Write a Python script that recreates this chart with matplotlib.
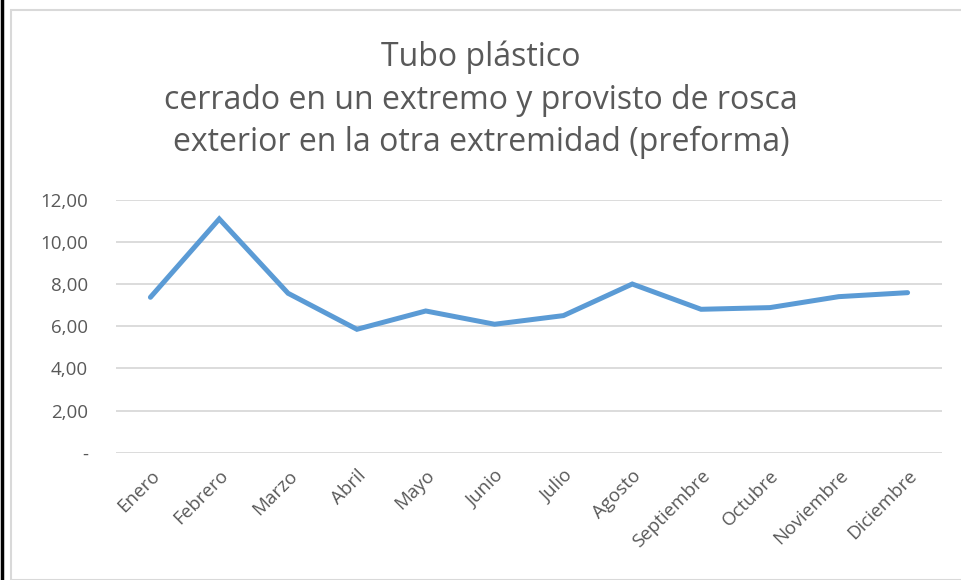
import numpy as np
import matplotlib.pyplot as plt
from matplotlib.patches import Rectangle
from matplotlib.lines import Line2D
from matplotlib.ticker import FuncFormatter

# monthly values
meses = ['Enero', 'Febrero', 'Marzo', 'Abril', 'Mayo', 'Junio', 'Julio',
         'Agosto', 'Septiembre', 'Octubre', 'Noviembre', 'Diciembre']
valores = [7.38, 11.10, 7.57, 5.86, 6.73, 6.10, 6.51, 8.01, 6.81, 6.89, 7.41, 7.60]
yticks = [0, 2, 4, 6, 8, 10, 12]

titulo = ('Tubo plástico\n'
          'cerrado en un extremo y provisto de rosca\n'
          'exterior en la otra extremidad (preforma)')

plt.rcParams['font.family'] = ['Open Sans', 'DejaVu Sans']
gris = '#595959'

fig = plt.figure(figsize=(9.61, 5.8), dpi=100)
W, H = 961, 580

# chart frame and black left edge
fig.patches.append(Rectangle((11 / W, 0), 1, 1 - 10 / H, transform=fig.transFigure,
                             fill=False, edgecolor='#d9d9d9', linewidth=1.5))
fig.lines.append(Line2D([1.5 / W, 1.5 / W], [0, 1], transform=fig.transFigure,
                        color='black', linewidth=2.5))

ax = fig.add_axes([116 / W, 1 - 452.7 / H, (942 - 116) / W, (452.7 - 200) / H])
x = np.arange(len(meses))
ax.plot(x, valores, color='#5b9bd5', linewidth=3.6, solid_capstyle='round',
        solid_joinstyle='miter')

ax.set_xlim(-0.5, len(meses) - 0.5)
ax.set_ylim(0, 12)
ax.set_yticks(yticks)
ax.yaxis.set_major_formatter(FuncFormatter(
    lambda v, p: '-' if v == 0 else f'{v:.2f}'.replace('.', ',')))
ax.set_xticks(x)
ax.set_xticklabels(meses, rotation=45, ha='right', rotation_mode='anchor')
ax.tick_params(axis='both', length=0, labelsize=13.5, colors=gris)
ax.tick_params(axis='y', pad=20)
ax.tick_params(axis='x', pad=10)
ax.grid(axis='y', color='#d9d9d9', linewidth=1.3)
ax.set_axisbelow(True)
for s in ax.spines.values():
    s.set_visible(False)

fig.text(481 / W, 1 - 100 / H, titulo, ha='center', va='center', fontsize=23,
         color=gris, linespacing=1.38)

fig.savefig('out.png', dpi=100)
